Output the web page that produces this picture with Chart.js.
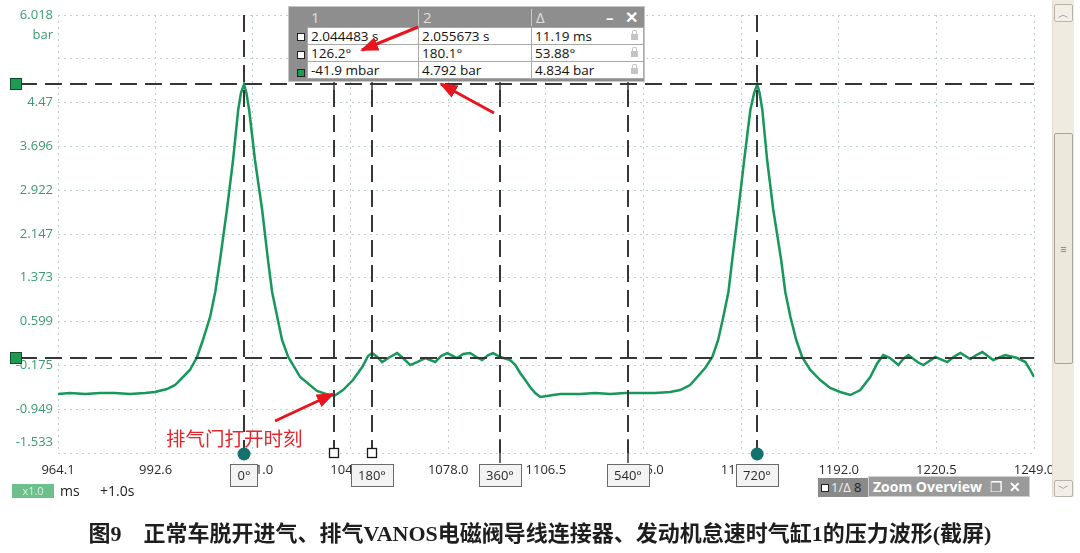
<!DOCTYPE html>
<html>
<head>
<meta charset="utf-8">
<script src="https://cdn.jsdelivr.net/npm/chart.js@4.4.1/dist/chart.umd.min.js"></script>
<style>
    body { margin: 0; background: #fff; }
    #wrap { position: relative; width: 1080px; height: 553px; overflow: hidden; font-family: "Open Sans", "Liberation Sans", sans-serif; }
    #scope { position: absolute; left: 0; top: 0; }
    .rt { position: absolute; left: 288px; top: 6px; width: 357px; height: 76px; background: #8e8e8e; border: 1px solid #c6c6c6; box-sizing: border-box; }
    .rt .hd { position: absolute; top: 0; font-size: 15px; color: #dedede; line-height: 20px; }
    .rt .sep { position: absolute; top: 2px; width: 1px; height: 17px; background: #c8c8c8; }
    .rt .cell { position: absolute; height: 18px; background: #fff; border: 1px solid #a8a8a8; box-sizing: border-box; font-size: 13.5px; color: #111; line-height: 16px; padding-left: 3px; white-space: nowrap; }
    .rt .sq { position: absolute; left: 8px; width: 6px; height: 6px; border: 1px solid #222; background: #fff; }
    .rt .lock { position: absolute; right: 5px; top: 6px; width: 7px; height: 6px; background: #c4c4c4; }
    .rt .lock:before { content: ""; position: absolute; left: 1px; top: -4px; width: 3px; height: 4px; border: 1px solid #c4c4c4; border-bottom: none; border-radius: 2px 2px 0 0; }
    .ctl { position: absolute; white-space: nowrap; }
    .scroll { position: absolute; left: 1052px; top: 0; width: 21px; height: 497px; background: #f0ebe0; border-left: 1px solid #e2ddd2; }
    .sbtn { position: absolute; left: 1px; width: 17px; border: 1px solid #b9b4a8; border-radius: 2px; background: #f3efe6; color: #777; font-size: 11px; text-align: center; }
    #caption { position: absolute; left: 0; top: 515px; width: 1080px; text-align: center; font-family: "Liberation Serif", "Noto Sans CJK SC", serif; font-weight: bold; font-size: 22px; color: #1e1e1e; }
</style>
</head>
<body>
<div id="wrap">
    <canvas id="scope" width="1080" height="553"></canvas>

    <div class="rt">
        <div class="hd" style="left:22px">1</div>
        <div class="sep" style="left:129px"></div>
        <div class="hd" style="left:134px">2</div>
        <div class="sep" style="left:242px"></div>
        <div class="hd" style="left:247px">Δ</div>
        <div class="hd" style="left:317px;color:#fff;font-weight:bold">–</div>
        <div class="hd" style="left:336px;color:#fff;font-weight:bold;font-size:16px">✕</div>

        <div class="sq" style="top:26px"></div>
        <div class="sq" style="top:44px"></div>
        <div class="sq" style="top:62px;background:#1f9a52"></div>

        <div class="cell" style="left:18px;top:20px;width:112px">2.044483 s</div>
        <div class="cell" style="left:129px;top:20px;width:114px">2.055673 s</div>
        <div class="cell" style="left:242px;top:20px;width:113px">11.19 ms<span class="lock"></span></div>
        <div class="cell" style="left:18px;top:37px;width:112px">126.2°</div>
        <div class="cell" style="left:129px;top:37px;width:114px">180.1°</div>
        <div class="cell" style="left:242px;top:37px;width:113px">53.88°<span class="lock"></span></div>
        <div class="cell" style="left:18px;top:54px;width:112px">-41.9 mbar</div>
        <div class="cell" style="left:129px;top:54px;width:114px">4.792 bar</div>
        <div class="cell" style="left:242px;top:54px;width:113px">4.834 bar<span class="lock"></span></div>
    </div>

    <svg width="1080" height="553" style="position:absolute;left:0;top:0;pointer-events:none">
        <defs>
            <marker id="ah" markerUnits="userSpaceOnUse" markerWidth="18" markerHeight="14" refX="16" refY="7" orient="auto">
                <polygon points="0,0 18,7 0,14" fill="#e8151d"></polygon>
            </marker>
        </defs>
        <line x1="418" y1="27" x2="362" y2="50" stroke="#e8151d" stroke-width="3" marker-end="url(#ah)"></line>
        <line x1="494" y1="113" x2="441" y2="84" stroke="#e8151d" stroke-width="3" marker-end="url(#ah)"></line>
        <line x1="275" y1="421" x2="333" y2="394" stroke="#e8151d" stroke-width="3" marker-end="url(#ah)"></line>
    </svg>
    <div class="ctl" style="left:166px;top:423px;font-family:'Noto Sans CJK SC',sans-serif;font-size:19.5px;color:#e3262c">排气门打开时刻</div>

    <div class="ctl" style="left:12px;top:484px;width:42px;height:14px;background:#6dc08c;color:#d6f0df;font-size:11px;line-height:14px;text-align:center">x1.0</div>
    <div class="ctl" style="left:60px;top:481px;font-size:14px;color:#222">ms</div>
    <div class="ctl" style="left:100px;top:481px;font-size:14px;color:#222">+1.0s</div>

    <div class="ctl" style="left:818px;top:478px;width:50px;height:19px;background:#8a8a8a;color:#eee;font-size:13px;line-height:19px">
        <span style="display:inline-block;width:6px;height:6px;border:1px solid #222;background:#fff;margin:0 2px 0 3px"></span>1/Δ <span style="color:#222">8</span>
    </div>
    <div class="ctl" style="left:868px;top:476px;width:162px;height:21px;background:#9a9a9a;border:1px solid #cfcfcf;box-sizing:border-box;color:#fff;font-weight:bold;font-size:14px;line-height:19px;padding-left:4px">
        Zoom Overview<span style="position:absolute;right:26px;top:0;font-weight:normal">❐</span><span style="position:absolute;right:8px;top:0">✕</span>
    </div>

    <div class="scroll">
        <div class="sbtn" style="top:4px;height:16px;line-height:18px">︿</div>
        <div class="sbtn" style="top:133px;height:229px;line-height:229px;background:#ede8dc;border-color:#a9a499">≡</div>
        <div class="sbtn" style="top:480px;height:15px;line-height:13px">﹀</div>
    </div>

    <div id="caption">图9　正常车脱开进气、排气VANOS电磁阀导线连接器、发动机怠速时气缸1的压力波形(截屏)</div>
</div>

<script>
// time axis in ms, pressure in bar
const timeMs = [
    964.1, 967.6, 972.0, 976.4, 980.7, 985.1, 989.5, 992.4, 995.9, 998.3,
    999.7, 1002.6, 1004.7, 1006.4, 1008.5, 1010.0, 1011.4, 1013.4, 1015.2, 1016.7,
    1017.5, 1018.4, 1019.1, 1019.9, 1021.6, 1023.7, 1025.4, 1026.6, 1028.1, 1029.5,
    1031.3, 1034.8, 1039.7, 1042.3, 1044.7, 1047.3, 1050.2, 1052.9, 1054.6, 1055.8,
    1057.3, 1058.7, 1061.0, 1063.1, 1065.1, 1066.9, 1068.9, 1071.3, 1074.2, 1075.9,
    1077.7, 1080.6, 1082.4, 1084.4, 1086.2, 1087.9, 1089.7, 1091.1, 1093.2, 1096.1,
    1097.6, 1099.0, 1100.5, 1101.9, 1103.4, 1104.9, 1106.9, 1108.6, 1110.7, 1112.7,
    1116.5, 1120.9, 1125.3, 1129.7, 1134.0, 1138.4, 1142.8, 1145.7, 1148.6, 1150.7,
    1153.0, 1155.1, 1156.8, 1158.3, 1159.8, 1160.9, 1162.7, 1164.4, 1166.2, 1167.3,
    1168.2, 1168.9, 1169.7, 1171.1, 1172.9, 1175.2, 1176.4, 1177.9, 1179.6, 1181.3,
    1183.7, 1186.6, 1189.5, 1192.4, 1195.4, 1198.3, 1201.2, 1203.3, 1205.0, 1207.0,
    1209.4, 1210.8, 1212.3, 1215.0, 1216.7, 1220.2, 1223.7, 1225.5, 1227.5, 1230.4,
    1232.2, 1233.9, 1237.1, 1240.6, 1244.1, 1246.5, 1247.9, 1249.0
];
const pressureBar = [
    -0.681, -0.664, -0.681, -0.664, -0.664, -0.681, -0.664, -0.646, -0.593, -0.522,
    -0.434, -0.257, -0.027, 0.273, 0.680, 1.122, 1.687, 2.571, 3.455, 4.339,
    4.639, 4.792, 4.639, 4.339, 3.455, 2.571, 1.687, 1.122, 0.680, 0.273,
    -0.027, -0.381, -0.628, -0.681, -0.716, -0.611, -0.434, -0.204, -0.010, 0.043,
    -0.027, -0.116, -0.027, 0.043, -0.063, -0.169, -0.116, -0.045, -0.116, -0.010,
    0.043, -0.045, 0.026, 0.043, -0.027, -0.080, 0.008, 0.043, -0.027, -0.080,
    -0.169, -0.310, -0.434, -0.558, -0.664, -0.734, -0.716, -0.699, -0.681, -0.681,
    -0.681, -0.664, -0.681, -0.664, -0.664, -0.664, -0.646, -0.611, -0.522, -0.381,
    -0.222, -0.027, 0.273, 0.680, 1.122, 1.687, 2.571, 3.455, 4.339, 4.639,
    4.792, 4.639, 4.339, 3.455, 2.571, 1.687, 1.122, 0.680, 0.273, -0.027,
    -0.257, -0.434, -0.575, -0.646, -0.699, -0.611, -0.381, -0.133, 0.008, -0.045,
    -0.169, -0.063, 0.008, -0.116, -0.169, -0.027, -0.116, -0.027, 0.043, -0.063,
    0.008, 0.061, -0.080, 0.008, -0.045, -0.116, -0.257, -0.380
];

const xTickValues = [964.1, 992.6, 1021.0, 1049.5, 1078.0, 1106.5, 1135.0, 1163.5, 1192.0, 1220.5, 1249.0];
const xTickLabels = ['964.1', '992.6', '1021.0', '1049.5', '1078.0', '1106.5', '1135.0', '1163.5', '1192.0', '1220.5', '1249.0'];
const yTickValues = [6.018, 5.244, 4.47, 3.696, 2.922, 2.147, 1.373, 0.599, -0.175, -0.949, -1.533, -1.724];
const yTickLabels = ['6.018', '', '4.47', '3.696', '2.922', '2.147', '1.373', '0.599', '-0.175', '-0.949', '-1.533', ''];

// scope cursors: crank angle markers, time rulers, level rulers
const angleCursorMs = [1018.4, 1055.8, 1093.2, 1130.5, 1168.2];
const angleCursorLabels = ['0°', '180°', '360°', '540°', '720°'];
const rulerTimeMs = [1044.7, 1055.8];
const rulerLevelBar = [4.792, -0.0419];

const GRID = '#bfcfcf';
const FONT = '"Open Sans", "Liberation Sans", sans-serif';

const scopeCursors = {
    id: 'scopeCursors',
    afterDatasetsDraw(chart) {
        const { ctx, chartArea: a, scales: { x, y } } = chart;
        const times = [...new Set(angleCursorMs.concat(rulerTimeMs))];
        ctx.save();
        ctx.strokeStyle = '#363636';
        ctx.lineWidth = 2;
        ctx.setLineDash([17, 8]);
        times.forEach(t => {
            const px = Math.round(x.getPixelForValue(t));
            ctx.beginPath();
            ctx.moveTo(px, a.top);
            ctx.lineTo(px, a.bottom);
            ctx.stroke();
        });
        rulerLevelBar.forEach(v => {
            const py = Math.round(y.getPixelForValue(v));
            ctx.beginPath();
            ctx.moveTo(20, py);
            ctx.lineTo(a.right, py);
            ctx.stroke();
        });
        // short solid stubs
        ctx.setLineDash([]);
        ctx.lineWidth = 1.5;
        times.forEach(t => {
            const px = Math.round(x.getPixelForValue(t));
            if (t !== angleCursorMs[0] && t !== angleCursorMs[4]) {
                ctx.beginPath(); ctx.moveTo(px, 82); ctx.lineTo(px, 96); ctx.stroke();
            }
            if (!rulerTimeMs.includes(t) && t !== angleCursorMs[0] && t !== angleCursorMs[4]) {
                ctx.beginPath(); ctx.moveTo(px, a.bottom - 14); ctx.lineTo(px, a.bottom + 10); ctx.stroke();
            }
        });
        ctx.restore();
    },
    afterDraw(chart) {
        const { ctx, chartArea: a, scales: { x, y } } = chart;
        ctx.save();
        // unit label
        ctx.fillStyle = '#3b9a70';
        ctx.font = '13px ' + FONT;
        ctx.textAlign = 'right';
        ctx.textBaseline = 'middle';
        ctx.fillText('bar', 53, 35);

        // level ruler handles on the left
        rulerLevelBar.forEach(v => {
            const py = Math.round(y.getPixelForValue(v));
            ctx.fillStyle = '#1f9a52';
            ctx.strokeStyle = '#0f4f2a';
            ctx.lineWidth = 1;
            ctx.fillRect(10.5, py - 5.5, 11, 11);
            ctx.strokeRect(10.5, py - 5.5, 11, 11);
        });

        // time ruler handles
        rulerTimeMs.forEach(t => {
            const px = Math.round(x.getPixelForValue(t));
            ctx.fillStyle = '#fff';
            ctx.strokeStyle = '#1a1a1a';
            ctx.lineWidth = 1.3;
            ctx.fillRect(px - 4.5, a.bottom - 4.5, 9, 9);
            ctx.strokeRect(px - 4.5, a.bottom - 4.5, 9, 9);
        });

        // phase ruler ends
        [angleCursorMs[0], angleCursorMs[4]].forEach(t => {
            const px = x.getPixelForValue(t);
            ctx.beginPath();
            ctx.arc(px, a.bottom + 1, 6.5, 0, Math.PI * 2);
            ctx.fillStyle = '#15716e';
            ctx.fill();
        });

        // angle label boxes
        ctx.font = '13px ' + FONT;
        ctx.textAlign = 'center';
        ctx.textBaseline = 'middle';
        angleCursorMs.forEach((t, i) => {
            const px = Math.round(x.getPixelForValue(t));
            const w = Math.round(ctx.measureText(angleCursorLabels[i]).width + 14);
            const left = px - Math.round(w / 2) + 0.5;
            ctx.fillStyle = '#f3f3f3';
            ctx.strokeStyle = '#6a6a6a';
            ctx.lineWidth = 1;
            ctx.fillRect(left, 464.5, w, 22);
            ctx.strokeRect(left, 464.5, w, 22);
            ctx.fillStyle = '#2a2a2a';
            ctx.fillText(angleCursorLabels[i], px, 476);
        });
        ctx.restore();
    }
};

const ctx = document.getElementById('scope').getContext('2d');
new Chart(ctx, {
    type: 'line',
    data: {
        datasets: [{
            data: timeMs.map((t, i) => ({ x: t, y: pressureBar[i] })),
            borderColor: '#17975a',
            borderWidth: 2.5,
            pointRadius: 0,
            tension: 0
        }]
    },
    options: {
        responsive: false,
        animation: false,
        devicePixelRatio: 1,
        layout: { padding: { left: 0, right: 46, top: 15, bottom: 70 } },
        plugins: { legend: { display: false }, tooltip: { enabled: false } },
        scales: {
            x: {
                type: 'linear',
                min: 964.1,
                max: 1249.0,
                afterBuildTicks: s => { s.ticks = xTickValues.map(v => ({ value: v })); },
                afterFit: s => { s.height = 30; },
                border: { display: false, dash: [2, 4] },
                grid: { color: GRID, lineWidth: 1, drawTicks: false },
                ticks: {
                    autoSkip: false,
                    maxRotation: 0,
                    padding: 9,
                    color: '#2a2a2a',
                    font: { family: FONT, size: 13 },
                    callback: (v, i) => xTickLabels[i]
                }
            },
            y: {
                min: -1.724,
                max: 6.018,
                afterBuildTicks: s => { s.ticks = yTickValues.map(v => ({ value: v })); },
                afterFit: s => { s.width = 58; },
                border: { display: false, dash: [2, 4] },
                grid: {
                    color: c => (c.tick && c.tick.value === -1.533) ? 'rgba(0,0,0,0)' : GRID,
                    lineWidth: 1,
                    drawTicks: false
                },
                ticks: {
                    autoSkip: false,
                    padding: 5,
                    color: '#3b9a70',
                    font: { family: FONT, size: 13 },
                    callback: (v, i) => yTickLabels[i]
                }
            }
        }
    },
    plugins: [scopeCursors]
});
</script>
</body>
</html>
